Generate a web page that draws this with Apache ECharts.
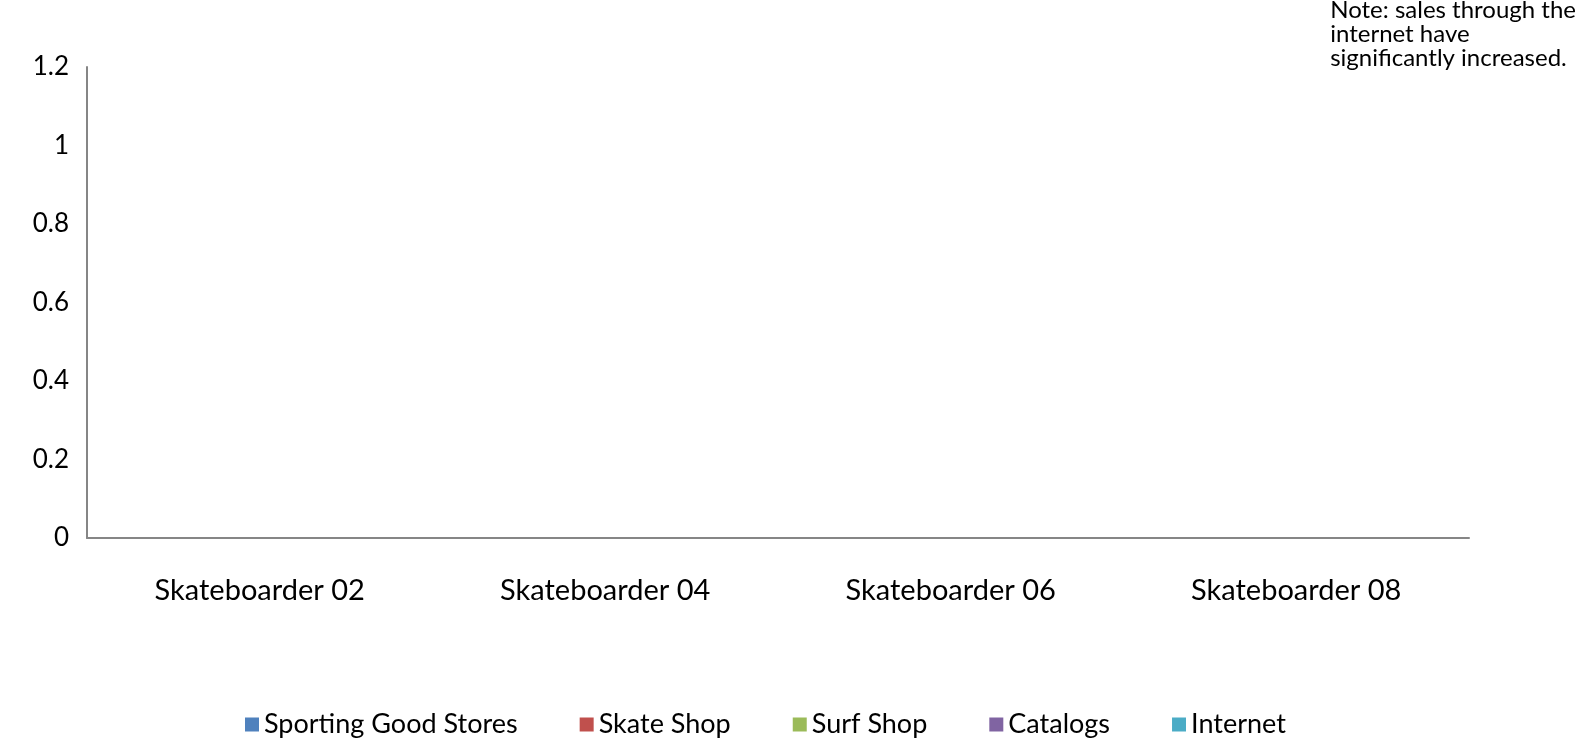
<!DOCTYPE html>
<html>
<head>
<meta charset="utf-8">
<script src="https://cdn.jsdelivr.net/npm/echarts@6/dist/echarts.min.js"></script>
<style>
  html, body { margin: 0; padding: 0; background: #fff; }
  #chart { width: 1587px; height: 747px; }
</style>
</head>
<body>
<div id="chart"></div>
<script>
const categories = ["Skateboarder 02", "Skateboarder 04", "Skateboarder 06", "Skateboarder 08"];
const seriesNames = ["Sporting Good Stores", "Skate Shop", "Surf Shop", "Catalogs", "Internet"];
const seriesColors = ["#4f81bd", "#c0504d", "#9bbb59", "#8064a2", "#4bacc6"];
// the source chart has no bars drawn: every value is empty
const sportingGoodStores = [null, null, null, null];
const skateShop = [null, null, null, null];
const surfShop = [null, null, null, null];
const catalogs = [null, null, null, null];
const internet = [null, null, null, null];
const seriesValues = [sportingGoodStores, skateShop, surfShop, catalogs, internet];
const noteText = "Note: sales through the\ninternet have\nsignificantly increased.";

const chart = echarts.init(document.getElementById("chart"));
const font = "Lato, 'DejaVu Sans', sans-serif";

chart.setOption({
  animation: false,
  textStyle: { fontFamily: font },
  title: {
    text: noteText,
    right: 6,
    top: -7,
    textStyle: { fontSize: 24, fontWeight: "normal", color: "#000", lineHeight: 24, fontFamily: font }
  },
  legend: {
    data: seriesNames,
    bottom: 4,
    left: 240,
    itemWidth: 14,
    itemHeight: 14,
    itemGap: 62,
    icon: "rect",
    textStyle: { fontSize: 27, color: "#000", fontFamily: font }
  },
  grid: { left: 87, right: 118, top: 67, bottom: 209 },
  xAxis: {
    type: "category",
    data: categories,
    axisLine: { lineStyle: { color: "#868686", width: 2 } },
    axisTick: { show: false },
    axisLabel: { fontSize: 29, color: "#000", margin: 38, fontFamily: font }
  },
  yAxis: {
    type: "value",
    min: 0,
    max: 1.2,
    interval: 0.2,
    splitLine: { show: false },
    axisLine: { show: true, lineStyle: { color: "#868686", width: 2 } },
    axisTick: { show: false },
    axisLabel: { fontSize: 26, color: "#000", margin: 18, fontFamily: font }
  },
  series: seriesNames.map((name, i) => ({
    name: name,
    type: "bar",
    data: seriesValues[i],
    itemStyle: { color: seriesColors[i] }
  }))
});
</script>
</body>
</html>
